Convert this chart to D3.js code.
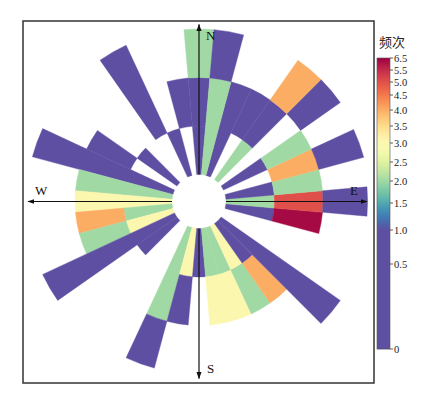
<!DOCTYPE html>
<html>
<head>
<meta charset="utf-8">
<script src="https://cdn.jsdelivr.net/npm/d3@7"></script>
<style>
  body { margin: 0; background: #fff; }
</style>
</head>
<body>
<div id="chart"></div>
<script>
// 方向(度, 以北为0顺时针), 半径分级的起止, 频次
const dirs = [0, 0, 0, 350, 340, 330, 310, 300, 290, 280, 270, 260, 260, 250, 250, 240, 230,
  200, 200, 190, 190, 180, 170, 160, 170, 160, 150, 150, 140, 140, 130, 100, 100,
  90, 90, 90, 80, 80, 70, 70, 60, 60, 50, 40, 40, 40, 30, 20, 10, 10]
const lo = [0, 5, 10, 5, 0, 5, 0, 5, 0, 0, 0, 0, 5, 0, 5, 0, 0,
  0, 10, 0, 5, 0, 0, 0, 5, 5, 0, 5, 0, 5, 0, 0, 5,
  0, 5, 10, 0, 5, 5, 10, 0, 5, 10, 0, 5, 10, 5, 0, 0, 10]
const hi = [5, 10, 15, 10, 5, 15, 5, 10, 15, 10, 10, 5, 10, 5, 10, 15, 5,
  10, 15, 5, 10, 5, 5, 5, 10, 10, 5, 10, 5, 10, 15, 5, 10,
  5, 10, 14.6, 5, 10, 10, 14.8, 5, 10, 15, 5, 10, 15, 10, 10, 10, 15]
const freq = [0.5, 0.5, 2, 0.5, 0.5, 0.5, 0.5, 0.5, 0.5, 2, 3, 2, 4, 3, 2, 0.5, 0.5,
  2, 0.5, 3, 0.5, 0.5, 2, 2, 3, 3, 3, 2, 0.5, 4, 0.5, 0.5, 6.3,
  2, 5, 0.5, 0.5, 2, 4, 0.5, 0.5, 2, 0.5, 2, 0.5, 4, 0.5, 0.5, 2, 0.5]

// 色标刻度
const cbTicks = [0, 0.5, 1, 1.5, 2, 2.5, 3, 3.5, 4, 4.5, 5, 5.5, 6.5]
const cbLabels = ["0", "0.5", "1.0", "1.5", "2.0", "2.5", "3.0", "3.5", "4.0", "4.5", "5.0", "5.5", "6.5"]
const dirLabels = ["N", "E", "S", "W"]

const width = 421, height = 396
const cx = 199, cy = 201.5

const svg = d3.select("#chart").append("svg")
  .attr("width", width)
  .attr("height", height)
  .style("font-family", "Liberation Serif, DejaVu Serif, serif")

const rScale = d3.scaleLinear().domain([0, 15]).range([27, 172.5])

// 色标位置 (非线性)
const cbY = d3.scaleLinear()
  .domain(cbTicks)
  .range([349, 264, 230, 203, 181, 162, 143, 126, 110, 95, 82, 70, 58])

function colorAtY(y) {
  const t = Math.max(0, Math.min(1, (y - 58) / 172))
  return d3.interpolateSpectral(t)
}
const colorOf = v => colorAtY(cbY(v))

// 外框
svg.append("rect")
  .attr("x", 23).attr("y", 21)
  .attr("width", 351).attr("height", 362)
  .attr("fill", "none")
  .attr("stroke", "#333")
  .attr("stroke-width", 1.5)

const cells = d3.range(dirs.length).map(i => ({
  dir: dirs[i], lo: lo[i], hi: hi[i], v: freq[i]
}))

const arc = d3.arc()
  .innerRadius(d => rScale(d.lo))
  .outerRadius(d => rScale(d.hi))
  .startAngle(d => (d.dir - 5) * Math.PI / 180)
  .endAngle(d => (d.dir + 5) * Math.PI / 180)

const g = svg.append("g").attr("transform", `translate(${cx},${cy})`)

g.selectAll("path.cell")
  .data(cells)
  .join("path")
  .attr("class", "cell")
  .attr("d", arc)
  .attr("fill", d => colorOf(d.v))
  .attr("stroke", d => colorOf(d.v))
  .attr("stroke-width", 0.4)

// 方向箭头
svg.append("defs").append("marker")
  .attr("id", "arr")
  .attr("viewBox", "0 0 10 10")
  .attr("refX", 9).attr("refY", 5)
  .attr("markerWidth", 6).attr("markerHeight", 6)
  .attr("orient", "auto")
  .append("path")
  .attr("d", "M0,1.5L10,5L0,8.5Z")
  .attr("fill", "#111")

const arrows = [
  { a: 0, len: 177 },
  { a: 90, len: 168 },
  { a: 180, len: 177 },
  { a: 270, len: 171 }
]
g.selectAll("line.dir")
  .data(arrows)
  .join("line")
  .attr("class", "dir")
  .attr("x1", d => 27 * Math.sin(d.a * Math.PI / 180))
  .attr("y1", d => -27 * Math.cos(d.a * Math.PI / 180))
  .attr("x2", d => d.len * Math.sin(d.a * Math.PI / 180))
  .attr("y2", d => -d.len * Math.cos(d.a * Math.PI / 180))
  .attr("stroke", "#111")
  .attr("stroke-width", 1.2)
  .attr("marker-end", "url(#arr)")

const labelPos = [[206, 40], [350, 195], [207, 373], [35, 195]]
svg.selectAll("text.dlab")
  .data(dirLabels)
  .join("text")
  .attr("class", "dlab")
  .attr("x", (d, i) => labelPos[i][0])
  .attr("y", (d, i) => labelPos[i][1])
  .attr("font-size", "13px")
  .attr("fill", "#111")
  .text(d => d)

// 色标
const cb = svg.append("g")
const x0 = 377, cbW = 13
cb.selectAll("rect.strip")
  .data(d3.range(58, 349))
  .join("rect")
  .attr("class", "strip")
  .attr("x", x0)
  .attr("y", d => d)
  .attr("width", cbW)
  .attr("height", 1.2)
  .attr("fill", d => colorAtY(d + 0.5))

cb.append("rect")
  .attr("x", x0).attr("y", 58)
  .attr("width", cbW).attr("height", 291)
  .attr("fill", "none")
  .attr("stroke", "#555")
  .attr("stroke-width", 0.6)

cb.selectAll("line.tk")
  .data(cbTicks)
  .join("line")
  .attr("class", "tk")
  .attr("x1", x0 + cbW).attr("x2", x0 + cbW + 3)
  .attr("y1", d => cbY(d)).attr("y2", d => cbY(d))
  .attr("stroke", "#333")
  .attr("stroke-width", 0.8)

cb.selectAll("text.tl")
  .data(cbTicks)
  .join("text")
  .attr("class", "tl")
  .attr("x", x0 + cbW + 4)
  .attr("y", d => cbY(d) + 3.5)
  .attr("font-size", "10.5px")
  .attr("fill", "#222")
  .text((d, i) => cbLabels[i])

svg.append("text")
  .attr("x", 392).attr("y", 47)
  .attr("text-anchor", "middle")
  .attr("font-family", "Noto Sans CJK SC")
  .attr("font-size", "13px")
  .attr("fill", "#222")
  .text("频次")
</script>
</body>
</html>
